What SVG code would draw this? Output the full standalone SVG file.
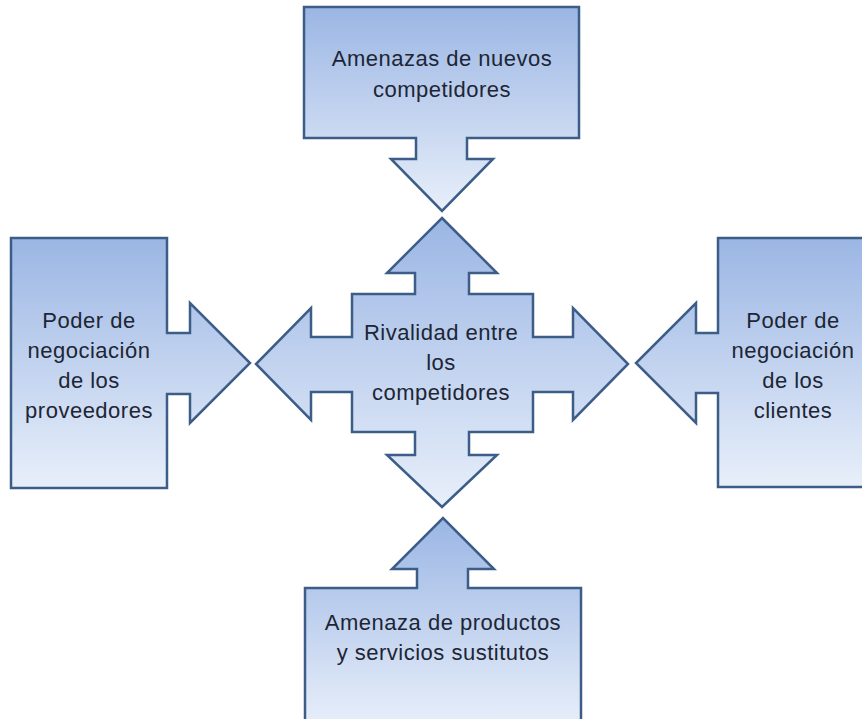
<svg xmlns="http://www.w3.org/2000/svg" width="862" height="719" viewBox="0 0 862 719">
  <defs>
    <linearGradient id="g" x1="0" y1="0" x2="0" y2="1">
      <stop offset="0" stop-color="#9bb6e4"/>
      <stop offset="1" stop-color="#e8effa"/>
    </linearGradient>
    <style>
      .shape { fill: url(#g); stroke: #3c5d88; stroke-width: 2.5; stroke-linejoin: miter; }
      .lbl { font-family: "Liberation Sans", Arial, sans-serif; font-size: 22px; fill: #1d2635; text-anchor: middle; letter-spacing: 0.5px; }
    </style>
  </defs>
  <rect width="862" height="719" fill="#ffffff"/>

  <g id="nuevos-competidores">
    <path class="shape" d="M304,7 H579 V138 H467 V159 H493 L442,211 L391,159 H416 V138 H304 Z"/>
    <text class="lbl" x="442" y="66">Amenazas de nuevos</text>
    <text class="lbl" x="442" y="97">competidores</text>
  </g>

  <g id="proveedores">
    <path class="shape" d="M11,238 H167 V333 H190 V303 L250,363 L190,423 V394 H167 V488 H11 Z"/>
    <text class="lbl" x="89" y="328">Poder de</text>
    <text class="lbl" x="89" y="358">negociación</text>
    <text class="lbl" x="89" y="388">de los</text>
    <text class="lbl" x="89" y="418">proveedores</text>
  </g>

  <g id="rivalidad">
    <path class="shape" d="M442,218 L497,273 H469 V294 H533 V337 H573 V308 L628,364 L573,420 V392 H533 V432 H469 V455 H497 L442,507 L387,455 H415 V432 H352 V392 H311 V420 L256,364 L311,308 V337 H352 V294 H415 V273 H387 Z"/>
    <text class="lbl" x="441" y="340">Rivalidad entre</text>
    <text class="lbl" x="441" y="370">los</text>
    <text class="lbl" x="441" y="400">competidores</text>
  </g>

  <g id="clientes">
    <path class="shape" d="M718,238 H872 V487 H718 V393 H696 V423 L636,363 L696,303 V333 H718 Z"/>
    <text class="lbl" x="793" y="328">Poder de</text>
    <text class="lbl" x="793" y="358">negociación</text>
    <text class="lbl" x="793" y="388">de los</text>
    <text class="lbl" x="793" y="418">clientes</text>
  </g>

  <g id="sustitutos">
    <path class="shape" d="M305,728 V588 H417 V569 H392 L443,518 L494,569 H468 V588 H581 V728 Z"/>
    <text class="lbl" x="443" y="630">Amenaza de productos</text>
    <text class="lbl" x="443" y="660">y servicios sustitutos</text>
  </g>

  <g id="connectors"></g>
</svg>
